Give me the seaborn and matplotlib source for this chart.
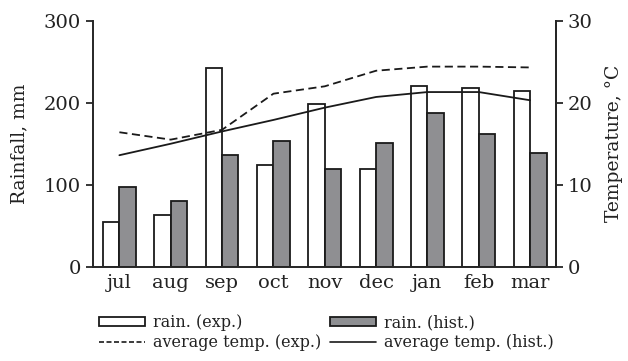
import numpy as np
import pandas as pd
import matplotlib
matplotlib.use("Agg")
import matplotlib.pyplot as plt
import seaborn as sns
from matplotlib.patches import Patch
from matplotlib.lines import Line2D

months = ["jul", "aug", "sep", "oct", "nov", "dec", "jan", "feb", "mar"]
rain_exp = [54, 63, 242, 124, 198, 119, 220, 218, 214]
rain_hist = [97, 80, 136, 153, 119, 151, 187, 162, 139]
temp_exp = [16.4, 15.5, 16.7, 21.1, 22.0, 23.9, 24.4, 24.4, 24.3]
temp_hist = [13.6, 15.0, 16.5, 17.9, 19.4, 20.7, 21.3, 21.3, 20.3]

sns.set_style("ticks")
plt.rcParams["font.family"] = ["DejaVu Serif"]
plt.rcParams["axes.linewidth"] = 1.4

rain = pd.DataFrame({
    "month": months * 2,
    "rain": rain_exp + rain_hist,
    "kind": ["rain. (exp.)"] * len(months) + ["rain. (hist.)"] * len(months),
})

fig = plt.figure(figsize=(6.28, 3.61), dpi=100)
ax = fig.add_axes([0.1476, 0.261, 0.7374, 0.6817])

sns.barplot(data=rain, x="month", y="rain", hue="kind", order=months,
            palette=["white", "#8e8f92"], width=0.64, edgecolor="#1a1a1a",
            linewidth=1.3, ax=ax, legend=False)

ax.set_xlim(-0.52, 8.5)
ax.set_ylim(0, 300)
ax.set_yticks([0, 100, 200, 300])
ax.set_xlabel("")
ax.set_ylabel("Rainfall, mm", fontsize=13.5, labelpad=11, color="#222222")
ax.tick_params(axis="y", labelsize=14, length=5, width=1.3,
               labelcolor="#222222")
ax.tick_params(axis="x", labelsize=14, length=0, pad=5, labelcolor="#222222")
ax.spines["top"].set_visible(False)

ax2 = ax.twinx()
pos = np.arange(len(months))
sns.lineplot(x=pos, y=temp_exp, ax=ax2, color="#1a1a1a", lw=1.3,
             linestyle=(0, (4.5, 2.5)))
sns.lineplot(x=pos, y=temp_hist, ax=ax2, color="#1a1a1a", lw=1.3)
ax2.set_ylim(0, 30)
ax2.set_yticks([0, 10, 20, 30])
ax2.set_ylabel("Temperature, °C", fontsize=13.5, labelpad=9,
               color="#222222")
ax2.tick_params(axis="y", labelsize=14, length=5, width=1.3,
                labelcolor="#222222")
ax2.spines["top"].set_visible(False)
ax2.spines["left"].set_visible(False)
ax2.spines["bottom"].set_visible(False)

handles = [
    Patch(facecolor="white", edgecolor="#1a1a1a", linewidth=1.3),
    Line2D([], [], color="#1a1a1a", lw=1.2, linestyle=(0, (3, 1.5))),
    Patch(facecolor="#8e8f92", edgecolor="#1a1a1a", linewidth=1.3),
    Line2D([], [], color="#1a1a1a", lw=1.2),
]
labels = ["rain. (exp.)", "average temp. (exp.)", "rain. (hist.)",
          "average temp. (hist.)"]
leg = fig.legend(handles, labels, ncol=2, loc="upper left",
                 bbox_to_anchor=(0.145, 0.152), frameon=False, fontsize=11.5,
                 handlelength=2.9, handleheight=0.45, handletextpad=0.5,
                 columnspacing=0.5, labelspacing=0.2, borderpad=0)
for t in leg.get_texts():
    t.set_color("#222222")

fig.savefig("out.png", dpi=100)
